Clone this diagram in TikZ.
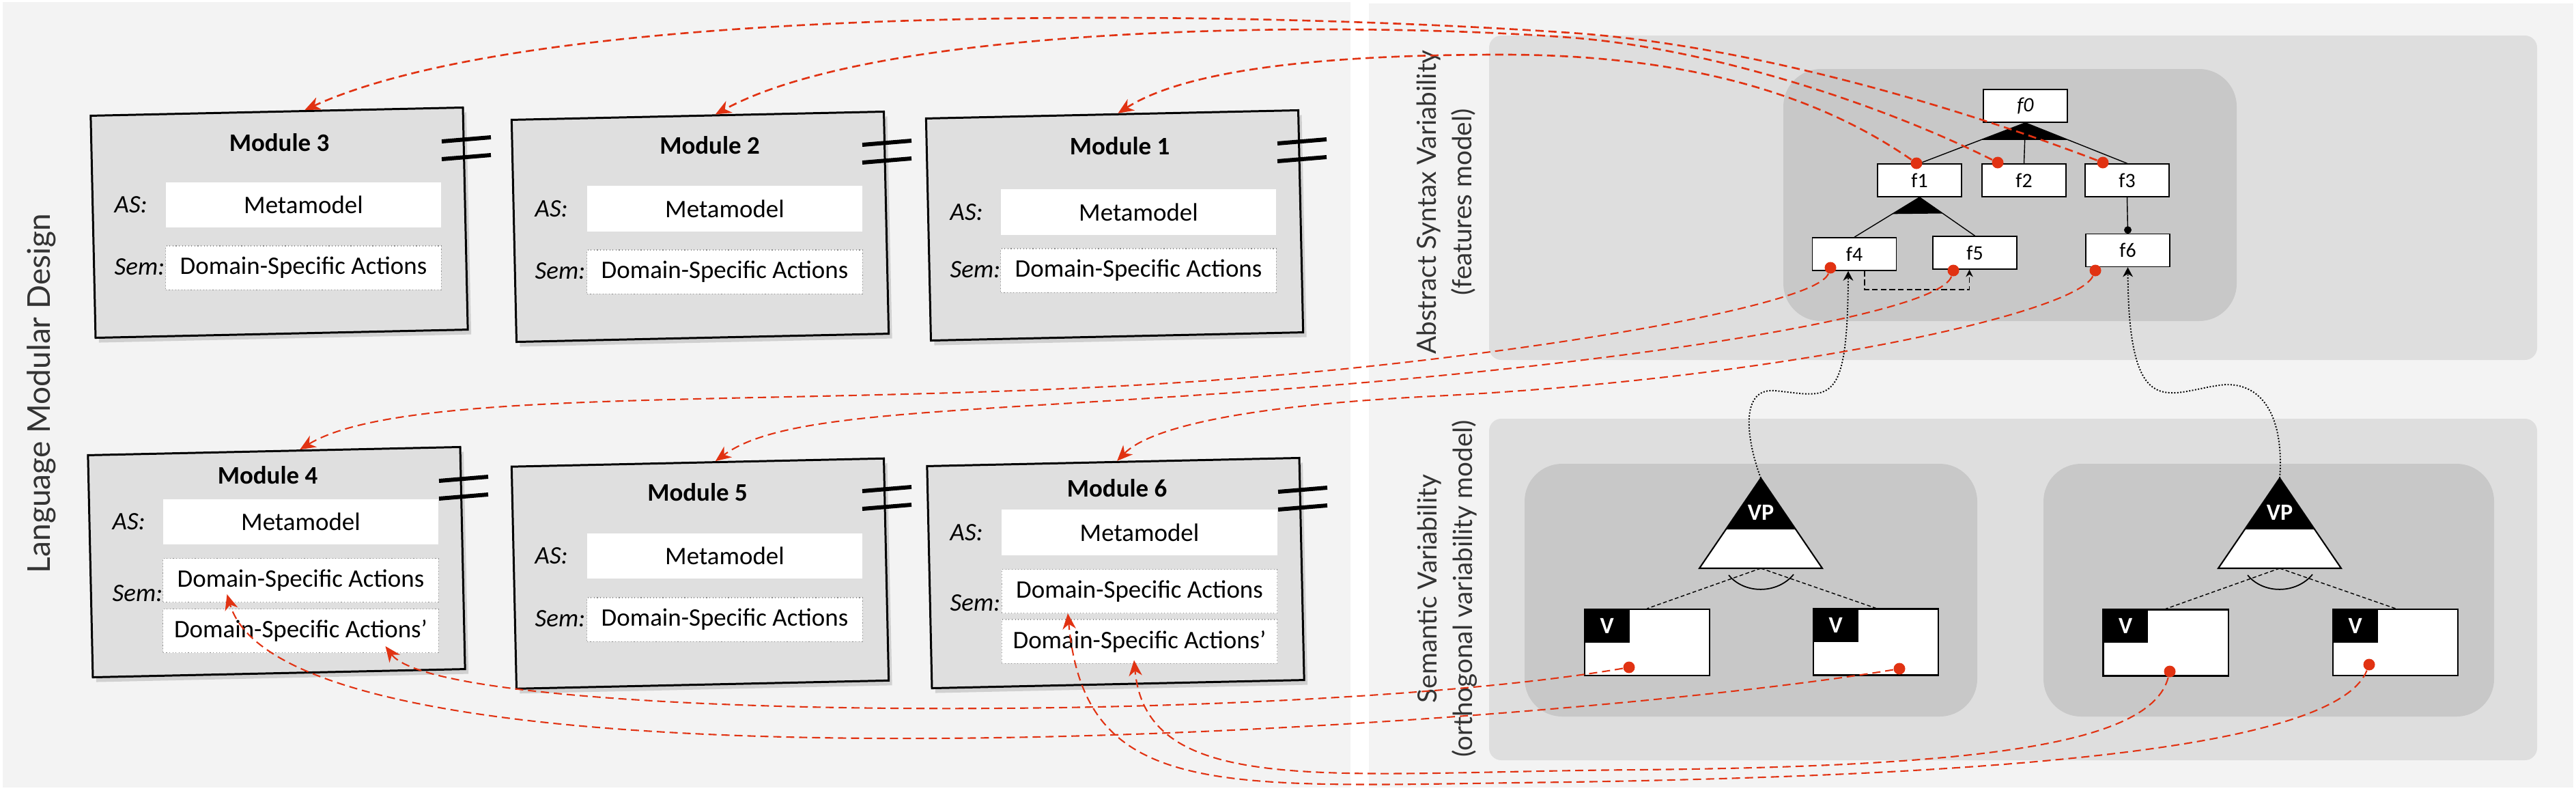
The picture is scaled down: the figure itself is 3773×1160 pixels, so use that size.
\documentclass[tikz,border=0pt]{standalone}
\usepackage{fontspec}
\setmainfont{Carlito}
\newfontfamily\latofont{Lato}
\usepackage{tikz}
\usetikzlibrary{calc,arrows.meta,shadows}
\definecolor{linkred}{RGB}{225,50,18}
\definecolor{panelbg}{RGB}{243,243,243}
\definecolor{areabg}{RGB}{222,222,222}
\definecolor{groupbg}{RGB}{200,200,200}
\definecolor{modfill}{RGB}{223,223,223}
\def\modbars(#1,#2){\draw[modbar] (#1,#2) -- ++(72,-6) ++(-72,32) -- ++(72,-6);}
\tikzset{
	module/.style={draw=black, line width=0.85pt, fill=modfill, minimum width=5.45cm, minimum height=3.25cm, inner sep=0pt, drop shadow={shadow xshift=0.05cm, shadow yshift=-0.07cm, opacity=0.3}},
	modtitle/.style={font=\fontsize{10.5}{12.6}\selectfont\bfseries},
	aslabel/.style={anchor=west, inner sep=0pt, font=\fontsize{10.5}{12.6}\selectfont\itshape},
	mmbox/.style={fill=white, minimum width=4.03cm, minimum height=0.66cm, inner sep=0pt, font=\fontsize{10.5}{12.6}\selectfont},
	dsabox/.style={mmbox, draw=black!45, densely dotted, line width=0.3pt, minimum height=0.64cm},
	modbar/.style={line width=1.7pt},
	feat/.style={draw, fill=white, line width=0.45pt, minimum width=1.23cm, minimum height=0.48cm, inner sep=0pt, font=\fontsize{8.5}{10}\selectfont},
	mandot/.style={circle, fill=black, inner sep=0pt, minimum size=0.11cm},
	reqline/.style={line width=0.4pt, dash pattern=on 2.4pt off 1.2pt, -{Stealth[length=3pt,width=3pt,inset=1pt]}},
	vptext/.style={text=white, font=\fontsize{9.7}{11}\selectfont\bfseries},
	vbox/.style={draw, fill=white, line width=0.6pt, minimum width=1.83cm, minimum height=0.97cm, inner sep=0pt},
	vtag/.style={fill=black, text=white, minimum width=0.66cm, minimum height=0.49cm, inner sep=0pt, font=\fontsize{9.7}{11}\selectfont\bfseries},
	varline/.style={line width=0.4pt, dash pattern=on 1.6pt off 1pt},
	rdot/.style={circle, fill=linkred, inner sep=0pt, minimum size=0.17cm},
	featlink/.style={linkred, line width=0.75pt, dash pattern=on 3.4pt off 2pt, -{Stealth[length=6.5pt,width=5.5pt,inset=2pt]}},
	semlink/.style={featlink, line width=0.6pt},
	vplink/.style={line width=0.55pt, dash pattern=on 0.55pt off 0.7pt, -{Stealth[length=4pt,width=4.2pt,inset=1.3pt]}},
	sidelabel/.style={rotate=90, align=center, text=black!80, font=\latofont\fontsize{11}{14.8}\selectfont}
}

\begin{document}
\begin{tikzpicture}[x=0.01cm, y=-0.01cm]
		%%%%% START %%%%%
		\useasboundingbox (0,0) rectangle (3773,1160);
		
		\fill[panelbg] (4,3) rectangle (1978,1153);
		\fill[panelbg] (2005,5) rectangle (3769,1153);
		\fill[areabg, rounded corners=0.18cm] (2181,52) rectangle (3716,527);
		\fill[areabg, rounded corners=0.18cm] (2181,613) rectangle (3716,1113);
		\fill[groupbg, rounded corners=0.55cm] (2612,101) rectangle (3276,470);
		\fill[groupbg, rounded corners=0.55cm] (2233,679) rectangle (2896,1049);
		\fill[groupbg, rounded corners=0.55cm] (2993,679) rectangle (3653,1049);
		
		\node[rotate=90, text=black!80, font=\latofont\fontsize{13.1}{15}\selectfont] (lmd) at (61,576) {Language Modular Design};
		\node[sidelabel] (asv) at (2118,296) {Abstract Syntax Variability\\(features model)};
		\node[sidelabel] (sv) at (2120,862) {Semantic Variability\\(orthogonal variability model)};
		
		% module 3
		\node[module, rotate=1.26] (m3) at (409,326) {};
		\modbars(647,207)
		\node[modtitle] (m3t) at (409,209) {Module 3};
		\node[aslabel] (m3as) at (167,300) {AS:};
		\node[mmbox] (m3mm) at (444.5,300) {Metamodel};
		\node[aslabel] (m3sem) at (167,391) {Sem:};
		\node[dsabox] (m3dsa) at (444.5,392) {Domain-Specific Actions};
		
		% module 2
		\node[module, rotate=1.26] (m2) at (1025.5,332) {};
		\modbars(1263,212)
		\node[modtitle] (m2t) at (1039.5,213) {Module 2};
		\node[aslabel] (m2as) at (783,305.5) {AS:};
		\node[mmbox] (m2mm) at (1061.5,305.5) {Metamodel};
		\node[aslabel] (m2sem) at (783,397) {Sem:};
		\node[dsabox] (m2dsa) at (1061.5,398) {Domain-Specific Actions};
		
		% module 1
		\node[module, rotate=1.26] (m1) at (1632.5,330) {};
		\modbars(1871,210)
		\node[modtitle] (m1t) at (1640,214) {Module 1};
		\node[aslabel] (m1as) at (1391,310.5) {AS:};
		\node[mmbox] (m1mm) at (1667.5,310.5) {Metamodel};
		\node[aslabel] (m1sem) at (1391,395) {Sem:};
		\node[dsabox] (m1dsa) at (1667.5,396) {Domain-Specific Actions};
		
		% module 4
		\node[module, rotate=1.26] (m4) at (405,823) {};
		\modbars(643,704)
		\node[modtitle] (m4t) at (392,696) {Module 4};
		\node[aslabel] (m4as) at (164,764) {AS:};
		\node[mmbox] (m4mm) at (440.5,764) {Metamodel};
		\node[aslabel] (m4sem) at (164,869) {Sem:};
		\node[dsabox] (m4dsa) at (440.5,849.5) {Domain-Specific Actions};
		\node[dsabox] (m4dsap) at (440.5,923.5) {Domain-Specific Actions'};
		
		% module 5
		\node[module, rotate=1.26] (m5) at (1025.5,839.75) {};
		\modbars(1263,719)
		\node[modtitle] (m5t) at (1021.5,721) {Module 5};
		\node[aslabel] (m5as) at (783,814) {AS:};
		\node[mmbox] (m5mm) at (1061.5,814) {Metamodel};
		\node[aslabel] (m5sem) at (783,906) {Sem:};
		\node[dsabox] (m5dsa) at (1061.5,907) {Domain-Specific Actions};
		
		% module 6
		\node[module, rotate=1.26] (m6) at (1634,839) {};
		\modbars(1872,720)
		\node[modtitle] (m6t) at (1636,715) {Module 6};
		\node[aslabel] (m6as) at (1391,779.5) {AS:};
		\node[mmbox] (m6mm) at (1669,779.5) {Metamodel};
		\node[aslabel] (m6sem) at (1391,883) {Sem:};
		\node[dsabox] (m6dsa) at (1669,865.5) {Domain-Specific Actions};
		\node[dsabox] (m6dsap) at (1669,939) {Domain-Specific Actions'};
		
		% features model
		\node[feat] (f0) at (2966.5,155) {\textit{f0}};
		\node[feat] (f1) at (2811.5,264) {f1};
		\node[feat] (f2) at (2964.5,264) {f2};
		\node[feat] (f3) at (3115.5,264) {f3};
		\node[feat] (f4) at (2716,372) {f4};
		\node[feat] (f5) at (2892.5,370) {f5};
		\node[feat] (f6) at (3116.5,366.5) {f6};
		
		\draw[line width=0.4pt] (f0.south) -- (f1.north) (f0.south) -- (f2.north) (f0.south) -- (f3.north);
		\fill (f0.south) -- ($(f0.south)!0.42!(f1.north)$) -- ($(f0.south)!0.42!(f3.north)$) -- cycle;
		\draw[line width=0.4pt] (f1.south) -- (f4.north) (f1.south) -- (f5.north);
		\fill (f1.south) -- ($(f1.south)!0.42!(f4.north)$) -- ($(f1.south)!0.42!(f5.north)$) -- cycle;
		\draw[line width=0.4pt] (f3.south) -- (f6.north);
		\node[mandot] (f6m) at ($(f6.north)+(0,-5)$) {};
		\draw[reqline] ($(f4.south)+(15,0)$) -- ++(0,27) -| ($(f5.south)+(-8,0)$);
		
		% variation points
		\coordinate (vp1) at (2579,700);
		\coordinate (vp1b) at (2579,832);
		\filldraw[fill=white, line width=0.6pt] (vp1) -- ++(-90,132) -- ++(180,0) -- cycle;
		\fill (vp1) -- ++(-51,75) -- ++(102,0) -- cycle;
		\node[vptext] (vp1t) at ($(vp1)+(0,50)$) {VP};
		
		\coordinate (vp2) at (3339,700);
		\coordinate (vp2b) at (3339,832);
		\filldraw[fill=white, line width=0.6pt] (vp2) -- ++(-90,132) -- ++(180,0) -- cycle;
		\fill (vp2) -- ++(-51,75) -- ++(102,0) -- cycle;
		\node[vptext] (vp2t) at ($(vp2)+(0,50)$) {VP};
		
		\node[vbox] (v1) at (2412.5,940.5) {};
		\node[vtag, anchor=north west] (v1t) at (v1.north west) {V};
		\node[vbox] (v2) at (2747.5,940) {};
		\node[vtag, anchor=north west] (v2t) at (v2.north west) {V};
		\node[vbox] (v3) at (3172,941) {};
		\node[vtag, anchor=north west] (v3t) at (v3.north west) {V};
		\node[vbox] (v4) at (3508.5,940.5) {};
		\node[vtag, anchor=north west] (v4t) at (v4.north west) {V};
		
		\draw[varline] (vp1b) -- (v1.north);
		\draw[varline] (vp1b) -- (v2.north);
		\draw[line width=0.5pt] ($(vp1b)+(-47,10)$) .. controls ($(vp1b)+(-24,38)$) and ($(vp1b)+(24,38)$) .. ($(vp1b)+(48,9)$);
		\draw[varline] (vp2b) -- (v3.north);
		\draw[varline] (vp2b) -- (v4.north);
		\draw[line width=0.5pt] ($(vp2b)+(-47,10)$) .. controls ($(vp2b)+(-24,38)$) and ($(vp2b)+(24,38)$) .. ($(vp2b)+(48,9)$);
		
		\draw[vplink] (vp1) .. controls (2560,650) and (2545,567) .. (2600,572) .. controls (2680,580) and (2706,600) .. ($(f4.south)+(-9,0)$);
		\draw[vplink] (vp2) .. controls (3345,620) and (3320,562) .. (3260,563) .. controls (3180,570) and (3118,630) .. (f6.south);
		
		% red dots
		\node[rdot] (f1dot) at (2807,239) {};
		\node[rdot] (f2dot) at (2926,238) {};
		\node[rdot] (f3dot) at (3080,238) {};
		\node[rdot] (f4dot) at (2681,392) {};
		\node[rdot] (f5dot) at (2861,396) {};
		\node[rdot] (f6dot) at (3069,396) {};
		\node[rdot] (v1dot) at (2386,977) {};
		\node[rdot] (v2dot) at (2782,979) {};
		\node[rdot] (v3dot) at (3178,983) {};
		\node[rdot] (v4dot) at (3470,973) {};
		
		% links
		\draw[featlink] (f3dot) .. controls (2850,150) and (2550,65) .. (2300,48) .. controls (1800,14) and (800,0) .. (m3.76);
		\draw[featlink] (f2dot) .. controls (2750,150) and (2500,70) .. (2300,55) .. controls (2000,32) and (1300,30) .. (m2.81);
		\draw[featlink] (f1dot) .. controls (2650,130) and (2450,80) .. (2200,80) .. controls (1950,80) and (1740,100) .. (m1.87);
		\draw[semlink] (f4dot) .. controls (2660,450) and (2200,525) .. (1800,555) .. controls (1200,600) and (600,560) .. (m4.77);
		\draw[semlink] (f5dot) .. controls (2840,460) and (2400,530) .. (1900,568) .. controls (1400,606) and (1150,600) .. (m5.81);
		\draw[semlink] (f6dot) .. controls (3040,460) and (2600,555) .. (2100,580) .. controls (1800,595) and (1680,630) .. (m6.88);
		
		\draw[semlink] (v1dot) .. controls (1900,1060) and (650,1060) .. ($(m4dsap.south)+(124,-10)$);
		\draw[semlink] (v2dot) .. controls (2300,1060) and (430,1200) .. ($(m4dsa.south)+(-108,-12)$);
		\draw[semlink] (v3dot) .. controls (3150,1090) and (2900,1122) .. (2400,1127) .. controls (1950,1130) and (1680,1170) .. ($(m6dsap.south)+(-8,-5)$);
		\draw[semlink] (v4dot) .. controls (3420,1100) and (2900,1135) .. (2300,1145) .. controls (1800,1150) and (1590,1180) .. ($(m6dsa.south)+(-105,0)$);
		
		%%%%% END %%%%%
\end{tikzpicture}
\end{document}
